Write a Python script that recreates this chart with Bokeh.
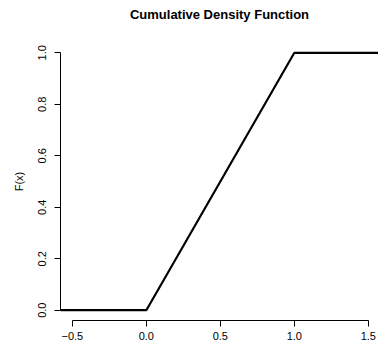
from bokeh.plotting import figure
from bokeh.models import FixedTicker, NumeralTickFormatter, Range1d, Title
from bokeh.embed import file_html
from bokeh.resources import INLINE

# Data: uniform(0,1) CDF
x_vals = [-0.6, 0.0, 1.0, 1.6]
f_vals = [0.0, 0.0, 1.0, 1.0]
x_ticks = [-0.5, 0.0, 0.5, 1.0, 1.5]
x_tick_labels = ["\u22120.5", "0.0", "0.5", "1.0", "1.5"]
y_ticks = [0.0, 0.2, 0.4, 0.6, 0.8, 1.0]
y_tick_labels = ["0.0", "0.2", "0.4", "0.6", "0.8", "1.0"]

FONT = "Liberation Sans"

p = figure(width=378, height=346, output_backend="svg", toolbar_location=None,
           x_range=Range1d(-0.58, 1.5686), y_range=Range1d(-0.04, 1.04),
           min_border_left=60, min_border_right=0, min_border_top=42, min_border_bottom=26)
p.title.text = "Cumulative Density Function"
p.title.align = "center"
p.title.vertical_align = "top"
p.title.text_font = FONT
p.title.text_font_size = "13px"
p.title.text_font_style = "bold"
p.title.text_color = "black"
p.title.standoff = 0

# blank spacer between the title and the plot area (like R's title margin)
p.add_layout(Title(text=" ", text_font=FONT, text_font_size="13px", standoff=2), "above")

p.line(x_vals, f_vals, line_width=2.2, color="black")

p.xgrid.visible = False
p.ygrid.visible = False
p.outline_line_color = None
p.background_fill_color = "white"
p.border_fill_color = "white"

for ax in (p.xaxis[0], p.yaxis[0]):
    ax.major_label_text_font = FONT
    ax.major_label_text_font_size = "11px"
    ax.major_label_text_color = "black"
    ax.axis_line_color = "black"
    ax.major_tick_line_color = "black"
    ax.minor_tick_line_color = None
    ax.major_tick_in = 0
    ax.major_tick_out = 6
    ax.formatter = NumeralTickFormatter(format="0.0")

p.xaxis[0].ticker = FixedTicker(ticks=x_ticks)
p.xaxis[0].major_label_overrides = {t: s for t, s in zip(x_ticks, x_tick_labels)}
p.xaxis[0].bounds = (-0.5, 1.5)
p.xaxis[0].major_label_standoff = 5

p.yaxis[0].ticker = FixedTicker(ticks=y_ticks)
p.yaxis[0].major_label_overrides = {t: s for t, s in zip(y_ticks, y_tick_labels)}
p.yaxis[0].bounds = (0, 1)
p.yaxis[0].major_label_orientation = "vertical"
p.yaxis[0].major_label_standoff = 8
p.yaxis[0].axis_label = "F(x)"
p.yaxis[0].axis_label_text_font = FONT
p.yaxis[0].axis_label_text_font_size = "11px"
p.yaxis[0].axis_label_text_font_style = "normal"
p.yaxis[0].axis_label_text_color = "black"
p.yaxis[0].axis_label_standoff = 11

open("out.html", "w").write(file_html(p, INLINE))
